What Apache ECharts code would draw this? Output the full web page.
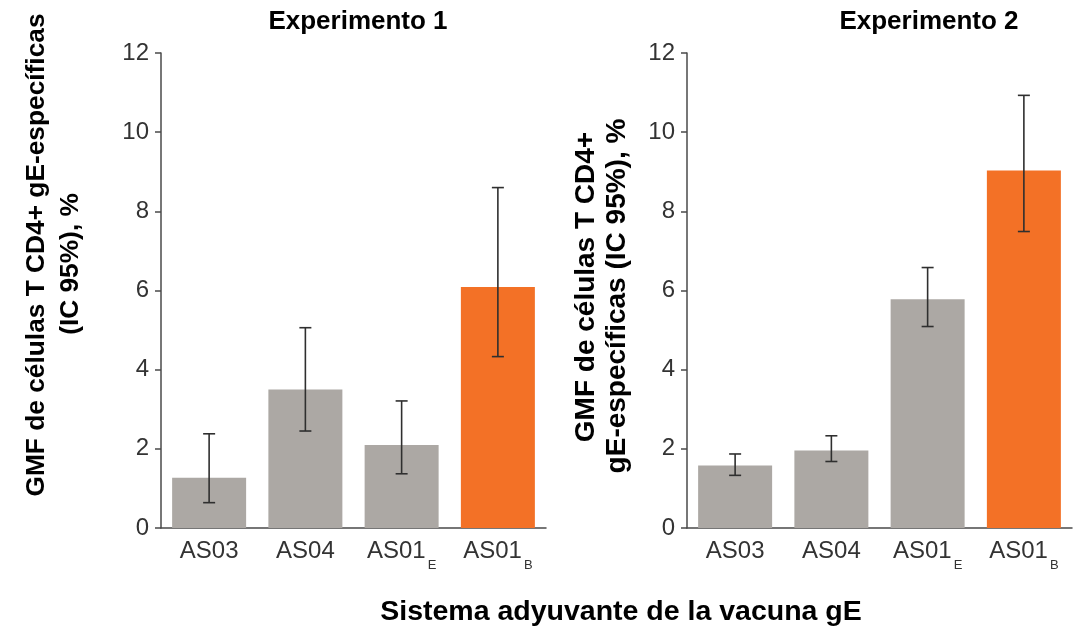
<!DOCTYPE html>
<html>
<head>
<meta charset="utf-8">
<title>GMF de células T CD4+ gE-específicas</title>
<script src="https://cdn.jsdelivr.net/npm/echarts@6/dist/echarts.min.js"></script>
<style>
  html, body { margin: 0; padding: 0; background: #fff; }
  #chart { width: 1073px; height: 629px; }
</style>
</head>
<body>
<div id="chart"></div>
<script>
// Adjuvant systems (subscript after "_")
const categories = ['AS03', 'AS04', 'AS01_E', 'AS01_B'];

// Experiment 1: geometric mean frequency with 95% CI
const exp1Gmf   = [1.27, 3.50, 2.10, 6.09];
const exp1Lower = [0.64, 2.45, 1.37, 4.33];
const exp1Upper = [2.38, 5.06, 3.21, 8.60];

// Experiment 2: geometric mean frequency with 95% CI
const exp2Gmf   = [1.58, 1.96, 5.78, 9.03];
const exp2Lower = [1.33, 1.68, 5.09, 7.49];
const exp2Upper = [1.87, 2.33, 6.58, 10.93];

// Value axis
const yMin = 0, yMax = 12, yStep = 2;

const FONT = '"Liberation Sans", Arial, Helvetica, sans-serif';
const GREY = '#aca8a4';
const ORANGE = '#f37126';
const INK = '#333333';

const chart = echarts.init(document.getElementById('chart'), null, { renderer: 'canvas' });

function catLabel(v) {
  const parts = v.split('_');
  return parts.length > 1 ? '{m|' + parts[0] + '}{s|' + parts[1] + '}' : '{m|' + v + '}';
}

function xAxisFor(gridIndex) {
  return {
    type: 'category',
    gridIndex: gridIndex,
    data: categories,
    axisLine: { lineStyle: { color: '#4a4a4a', width: 1.5 } },
    axisTick: { alignWithLabel: true, interval: 0, length: 6, lineStyle: { color: '#4a4a4a', width: 1.5 } },
    axisLabel: {
      interval: 0,
      margin: 2,
      formatter: catLabel,
      rich: {
        m: { fontSize: 24, color: INK, fontFamily: FONT, lineHeight: 42 },
        s: { fontSize: 13, color: INK, fontFamily: FONT, lineHeight: 15, padding: [27, 0, 0, 2], verticalAlign: 'bottom' }
      }
    }
  };
}

function yAxisFor(gridIndex) {
  return {
    type: 'value',
    gridIndex: gridIndex,
    min: yMin, max: yMax, interval: yStep,
    splitLine: { show: false },
    axisLine: { show: true, lineStyle: { color: '#4a4a4a', width: 1.5 } },
    axisTick: { show: true, length: 6, lineStyle: { color: '#4a4a4a', width: 1.5 } },
    axisLabel: { fontSize: 24, color: INK, fontFamily: FONT, margin: 12 }
  };
}

function barsFor(idx, values) {
  return {
    type: 'bar',
    xAxisIndex: idx, yAxisIndex: idx,
    data: values,
    barWidth: 74,
    itemStyle: {
      color: function (p) { return p.dataIndex === 3 ? ORANGE : GREY; }
    },
    z: 2
  };
}

function errorsFor(idx, lower, upper) {
  return {
    type: 'custom',
    xAxisIndex: idx, yAxisIndex: idx,
    data: lower.map(function (lo, i) { return [i, lo, upper[i]]; }),
    encode: { x: 0, y: [1, 2] },
    z: 5,
    renderItem: function (params, api) {
      const i = api.value(0);
      const lo = api.coord([i, api.value(1)]);
      const hi = api.coord([i, api.value(2)]);
      const half = 6;
      const style = { stroke: '#2f2f2f', lineWidth: 1.6 };
      return {
        type: 'group',
        children: [
          { type: 'line', shape: { x1: hi[0], y1: hi[1], x2: lo[0], y2: lo[1] }, style: style },
          { type: 'line', shape: { x1: hi[0] - half, y1: hi[1], x2: hi[0] + half, y2: hi[1] }, style: style },
          { type: 'line', shape: { x1: lo[0] - half, y1: lo[1], x2: lo[0] + half, y2: lo[1] }, style: style }
        ]
      };
    }
  };
}

function boldText(x, y, text, size, rotate) {
  return {
    type: 'text',
    x: x, y: y,
    rotation: rotate ? Math.PI / 2 : 0,
    style: {
      text: text,
      fontSize: size,
      fontWeight: 'bold',
      fontFamily: FONT,
      fill: '#000',
      align: 'center',
      verticalAlign: 'middle'
    }
  };
}

const option = {
  animation: false,
  backgroundColor: '#ffffff',
  grid: [
    { left: 161, top: 53, width: 385, height: 475 },
    { left: 687, top: 53, width: 385, height: 475 }
  ],
  xAxis: [xAxisFor(0), xAxisFor(1)],
  yAxis: [yAxisFor(0), yAxisFor(1)],
  series: [
    barsFor(0, exp1Gmf),
    errorsFor(0, exp1Lower, exp1Upper),
    barsFor(1, exp2Gmf),
    errorsFor(1, exp2Lower, exp2Upper)
  ],
  graphic: [
    boldText(358, 22, 'Experimento 1', 26, false),
    boldText(929, 22, 'Experimento 2', 26, false),
    boldText(621, 612, 'Sistema adyuvante de la vacuna gE', 28.5, false),
    boldText(37, 255, 'GMF de células T CD4+ gE-específicas', 26.3, true),
    boldText(71, 264, '(IC 95%), %', 26.3, true),
    boldText(586, 287, 'GMF de células T CD4+', 28, true),
    boldText(617, 296, 'gE-específicas (IC 95%), %', 28, true)
  ]
};

chart.setOption(option);
</script>
</body>
</html>
